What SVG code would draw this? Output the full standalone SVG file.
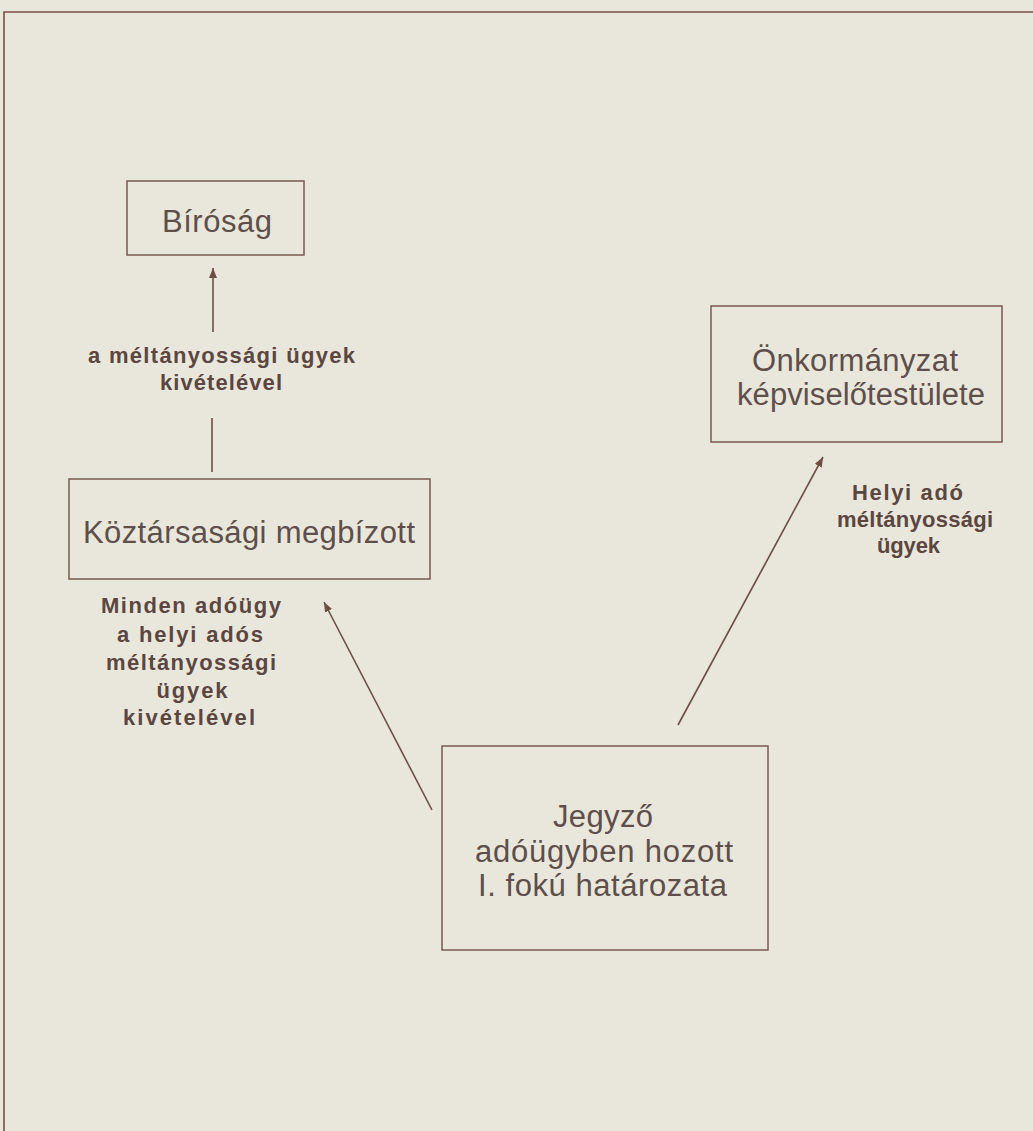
<svg xmlns="http://www.w3.org/2000/svg" width="1033" height="1131" viewBox="0 0 1033 1131">
  <defs>
    <style>
      .box { fill: none; stroke: #7a5a50; stroke-width: 1.5; }
      .conn { fill: none; stroke: #6e4e46; stroke-width: 1.6; }
      .frame { fill: none; stroke: #7a4f45; stroke-width: 1.6; }
      .main { font-family: "Liberation Sans", Arial, sans-serif; font-size: 31px; fill: #5e4f4a; text-anchor: middle; }
      .lbl { font-family: "Liberation Sans", Arial, sans-serif; font-size: 22px; font-weight: bold; fill: #5b4640; text-anchor: middle; }
    </style>
    <marker id="arr" viewBox="0 0 10 8" refX="10" refY="4" markerWidth="10" markerHeight="8" markerUnits="userSpaceOnUse" orient="auto">
      <path d="M0,0 L10,4 L0,8 Z" fill="#6e4e46"/>
    </marker>
  </defs>
  <rect x="0" y="0" width="1033" height="1131" fill="#e9e7dc"/>
  <path class="frame" d="M4,1131 L4,12 L1033,12"/>

  <g id="connectors">
    <line class="conn" x1="213" y1="332" x2="213" y2="268" marker-end="url(#arr)"/>
    <line class="conn" x1="212" y1="418" x2="212" y2="472"/>
    <line class="conn" x1="432" y1="810" x2="324" y2="602" marker-end="url(#arr)"/>
    <line class="conn" x1="678" y1="725" x2="823" y2="457" marker-end="url(#arr)"/>
    <text class="lbl" x="221.5" y="363" textLength="267" lengthAdjust="spacing">a méltányossági ügyek</text>
    <text class="lbl" x="221" y="390" textLength="122" lengthAdjust="spacing">kivételével</text>
    <text class="lbl" x="191" y="613" textLength="180" lengthAdjust="spacing">Minden adóügy</text>
    <text class="lbl" x="190" y="642" textLength="146" lengthAdjust="spacing">a helyi adós</text>
    <text class="lbl" x="191" y="670" textLength="170" lengthAdjust="spacing">méltányossági</text>
    <text class="lbl" x="192" y="698" textLength="71" lengthAdjust="spacing">ügyek</text>
    <text class="lbl" x="189" y="725" textLength="132" lengthAdjust="spacing">kivételével</text>
    <text class="lbl" x="907.5" y="500" textLength="111" lengthAdjust="spacing">Helyi adó</text>
    <text class="lbl" x="915" y="527" textLength="156" lengthAdjust="spacing">méltányossági</text>
    <text class="lbl" x="908.5" y="553" textLength="63" lengthAdjust="spacing">ügyek</text>
  </g>

  <g id="birosag">
    <rect class="box" x="127" y="181" width="177" height="74"/>
    <text class="main" x="217" y="232" textLength="110" lengthAdjust="spacing">Bíróság</text>
  </g>

  <g id="koztarsasagi">
    <rect class="box" x="69" y="479" width="361" height="100"/>
    <text class="main" x="249" y="543" textLength="332" lengthAdjust="spacing">Köztársasági megbízott</text>
  </g>

  <g id="onkormanyzat">
    <rect class="box" x="711" y="306" width="291" height="136"/>
    <text class="main" x="855" y="371" textLength="206" lengthAdjust="spacing">Önkormányzat</text>
    <text class="main" x="861" y="405" textLength="248" lengthAdjust="spacing">képviselőtestülete</text>
  </g>

  <g id="jegyzo">
    <rect class="box" x="442" y="746" width="326" height="204"/>
    <text class="main" x="603" y="827" textLength="100" lengthAdjust="spacing">Jegyző</text>
    <text class="main" x="604" y="862" textLength="258" lengthAdjust="spacing">adóügyben hozott</text>
    <text class="main" x="602.5" y="896" textLength="249" lengthAdjust="spacing">I. fokú határozata</text>
  </g>
</svg>
